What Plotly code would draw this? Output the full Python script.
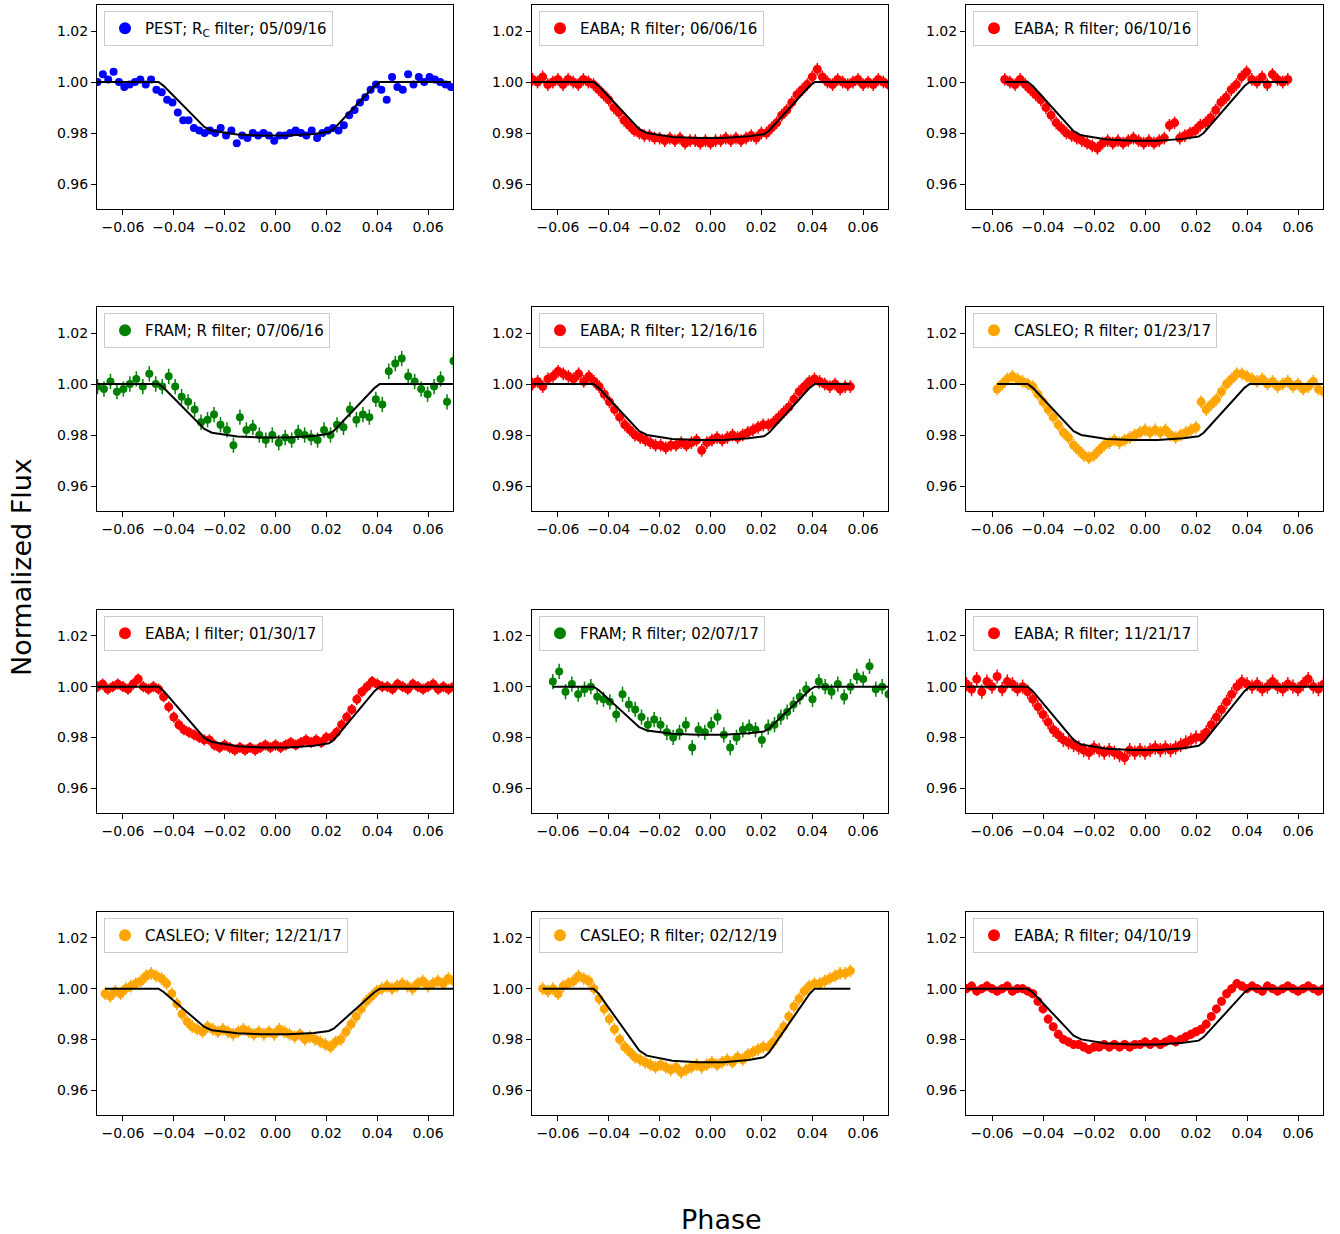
import numpy as np
import plotly.graph_objects as go

labels = ["PEST; R<sub>C</sub> filter; 05/09/16", "EABA; R filter; 06/06/16", "EABA; R filter; 06/10/16",
          "FRAM; R filter; 07/06/16", "EABA; R filter; 12/16/16", "CASLEO; R filter; 01/23/17",
          "EABA; I filter; 01/30/17", "FRAM; R filter; 02/07/17", "EABA; R filter; 11/21/17",
          "CASLEO; V filter; 12/21/17", "CASLEO; R filter; 02/12/19", "EABA; R filter; 04/10/19"]
colors = ["#0000ff", "#ff0000", "#ff0000", "#008000", "#ff0000", "#ffa500",
          "#ff0000", "#008000", "#ff0000", "#ffa500", "#ffa500", "#ff0000"]
ranges = [(-0.07, 0.069), (-0.07, 0.07), (-0.055, 0.056), (-0.07, 0.07), (-0.07, 0.055), (-0.058, 0.07),
          (-0.07, 0.07), (-0.062, 0.07), (-0.07, 0.07), (-0.067, 0.07), (-0.066, 0.055), (-0.07, 0.07)]
errs = [0.0, 0.0025, 0.0025, 0.003, 0.0025, 0.0025, 0.0022, 0.003, 0.0028, 0.0025, 0.0025, 0.0018]

f1 = [1.000,1.003,1.001,1.004,1.000,0.998,0.999,1.000,1.001,0.999,
      1.001,0.997,0.996,0.993,0.992,0.988,0.985,0.985,0.982,0.981,
      0.980,0.981,0.980,0.982,0.979,0.981,0.976,0.979,0.978,0.980,
      0.979,0.980,0.979,0.977,0.979,0.979,0.980,0.981,0.980,0.979,
      0.981,0.978,0.980,0.981,0.982,0.981,0.983,0.987,0.989,0.992,
      0.994,0.997,0.999,0.997,0.993,1.002,0.998,0.997,1.003,0.999,
      1.002,1.000,1.002,1.001,1.000,0.999,0.998]
f2 = [1.001,1.000,1.002,0.999,1.000,1.001,0.999,1.001,1.000,0.999,1.001,1.000,
      0.999,0.997,0.995,0.993,0.990,0.988,0.985,0.983,0.981,0.980,
      0.979,0.979,0.978,0.978,0.977,0.978,0.977,0.978,0.976,0.977,0.977,0.976,0.977,0.976,0.977,0.977,0.978,0.977,0.978,0.977,0.978,0.979,0.978,0.980,
      0.980,0.982,0.984,0.987,0.989,0.992,0.995,0.997,0.999,1.002,1.005,
      1.002,1.000,0.999,1.001,1.000,0.999,1.000,1.001,0.999,1.000,0.999,1.001,1.000,0.999]
f3 = [1.001,1.000,0.999,1.001,0.999,
      0.997,0.995,0.993,0.990,0.987,0.984,0.982,0.980,0.979,
      0.978,0.977,0.976,0.975,0.974,0.976,0.977,0.976,0.977,0.976,0.977,0.978,0.977,0.976,0.977,0.976,0.977,0.978,0.983,0.984,0.978,0.979,0.980,0.981,0.983,
      0.984,0.986,0.989,0.992,0.994,0.997,0.999,1.002,1.004,1.001,
      1.000,1.002,0.999,1.003,1.001,1.000,1.001]
f4 = [0.999,0.998,1.001,0.997,0.998,1.000,1.002,0.999,1.004,1.000,
      0.999,1.003,0.999,0.995,0.993,0.990,0.985,0.986,0.988,0.984,
      0.982,0.976,0.987,0.982,0.983,0.980,0.978,0.980,0.977,0.979,
      0.978,0.981,0.980,0.979,0.978,0.982,0.980,0.984,0.983,0.990,
      0.986,0.988,0.987,0.994,0.992,1.005,1.008,1.010,1.003,1.001,
      0.998,0.996,0.999,1.002,0.993,1.009]
f5 = [1.000,1.001,0.999,1.002,1.003,1.005,1.004,1.003,1.002,1.004,1.001,1.003,
      1.001,0.999,0.996,0.993,0.990,0.987,0.984,0.982,0.980,0.979,
      0.978,0.977,0.976,0.976,0.975,0.976,0.976,0.977,0.976,0.977,0.978,0.974,0.977,0.978,0.979,0.978,0.979,0.980,0.979,0.980,0.981,0.982,0.983,0.984,
      0.984,0.985,0.987,0.989,0.991,0.994,0.997,0.999,1.001,1.002,1.001,
      1.000,0.999,1.000,0.998,0.999,0.999]
f6 = [0.998,1.000,1.002,1.003,1.002,1.001,1.000,0.999,
      0.996,0.993,0.990,0.987,0.984,0.981,0.979,0.976,0.974,0.972,
      0.971,0.972,0.974,0.976,0.977,0.978,0.977,0.978,0.979,0.980,0.981,0.982,0.981,0.982,0.981,0.982,0.980,0.979,0.980,0.981,0.982,0.983,
      0.993,0.990,0.992,0.994,0.997,1.000,1.002,1.004,
      1.004,1.003,1.002,1.001,1.002,1.000,1.001,0.999,1.000,1.001,0.999,1.000,0.998,0.999,1.001,0.998,0.997]
f7 = [1.000,1.001,0.999,1.000,1.001,1.000,0.999,1.001,1.003,1.000,0.999,1.000,
      0.999,0.996,0.992,0.988,0.985,0.983,0.982,0.981,0.980,0.979,
      0.979,0.977,0.976,0.977,0.976,0.975,0.976,0.975,0.976,0.975,0.976,0.977,0.976,0.977,0.976,0.977,0.978,0.977,0.978,0.979,0.978,0.979,0.978,0.980,
      0.980,0.982,0.985,0.988,0.991,0.995,0.998,1.000,1.002,1.001,1.000,
      1.000,0.999,1.001,1.000,0.999,1.001,1.000,0.999,1.000,1.001,0.999,1.000,0.999,1.000]
f8 = [1.002,1.006,0.998,1.001,0.997,0.999,1.000,0.996,0.995,0.994,
      0.989,0.997,0.993,0.991,0.988,0.985,0.987,0.985,0.982,0.980,
      0.982,0.985,0.976,0.983,0.982,0.985,0.988,0.981,0.976,0.980,
      0.983,0.984,0.983,0.979,0.984,0.985,0.988,0.990,0.993,0.996,
      0.999,0.995,1.002,1.000,0.998,1.001,0.996,1.000,1.004,1.003,
      1.008,0.999,1.000,0.997]
f9 = [1.001,0.999,1.003,0.998,1.002,1.000,1.004,0.999,1.002,1.001,0.999,1.000,
      0.998,0.995,0.992,0.989,0.986,0.983,0.981,0.979,0.978,0.977,
      0.976,0.975,0.974,0.976,0.975,0.974,0.975,0.974,0.973,0.972,0.975,0.974,0.975,0.974,0.975,0.976,0.975,0.976,0.975,0.976,0.977,0.978,0.979,0.980,
      0.980,0.982,0.985,0.988,0.991,0.994,0.997,1.000,1.002,1.001,1.000,
      1.001,0.999,1.000,1.002,1.000,0.999,1.001,1.000,0.999,1.001,1.003,1.000,0.999,1.001]
f10 = [0.998,0.997,0.999,0.998,1.000,1.001,1.002,1.003,1.005,1.006,1.005,
       1.004,1.002,0.998,0.994,0.990,0.987,0.985,0.984,0.983,0.985,
       0.984,0.983,0.984,0.983,0.982,0.983,0.984,0.983,0.982,0.983,0.982,0.983,0.982,0.984,0.983,0.982,0.981,0.982,0.980,0.981,0.980,0.979,0.978,0.977,0.979,0.980,
       0.983,0.986,0.989,0.992,0.995,0.997,0.999,1.000,1.001,
       1.000,1.001,1.002,1.001,1.000,1.002,1.003,1.001,1.002,1.003,1.002,1.004,1.003]
f11 = [1.000,0.999,1.000,0.998,1.001,1.002,1.003,1.005,1.004,
       1.003,1.000,0.996,0.992,0.988,0.984,0.980,0.977,0.975,0.973,0.972,0.971,
       0.970,0.969,0.970,0.969,0.968,0.969,0.967,0.968,0.969,0.970,0.969,0.970,0.971,0.970,0.971,0.972,0.971,0.973,0.972,0.974,0.975,0.976,0.977,
       0.977,0.979,0.982,0.985,0.989,0.993,0.996,0.999,1.001,1.002,1.002,
       1.003,1.004,1.005,1.006,1.006,1.007]
f12 = [1.000,1.001,0.999,1.000,1.001,1.000,0.999,1.000,1.001,0.999,1.000,1.000,
       0.999,0.998,0.995,0.992,0.988,0.985,0.982,0.980,0.979,0.978,
       0.978,0.977,0.976,0.977,0.977,0.978,0.977,0.978,0.977,0.978,0.977,0.978,0.978,0.979,0.978,0.979,0.978,0.979,0.980,0.979,0.980,0.981,0.982,0.983,
       0.984,0.986,0.989,0.992,0.995,0.998,1.000,1.002,1.001,1.000,1.001,
       1.000,0.999,1.001,1.000,0.999,1.000,1.001,1.000,0.999,1.000,1.001,1.000,0.999,1.000]
fluxes = [f1, f2, f3, f4, f5, f6, f7, f8, f9, f10, f11, f12]

model_phase = [-0.07,-0.046,-0.044,-0.030,-0.028,-0.025,-0.015,-0.005,0.005,0.015,0.021,0.023,0.025,0.039,0.041,0.07]
m979 = [1,1,0.9985,0.9845,0.9824,0.9809,0.9794,0.979,0.979,0.9796,0.9805,0.9817,0.9838,0.9985,1,1]
m978 = [1,1,0.9985,0.9837,0.9815,0.9800,0.9784,0.978,0.978,0.9787,0.9795,0.9809,0.9831,0.9985,1,1]
m977 = [1,1,0.9984,0.9830,0.9807,0.9791,0.9775,0.977,0.977,0.9777,0.9786,0.9800,0.9823,0.9984,1,1]
m976 = [1,1,0.9983,0.9822,0.9798,0.9782,0.9765,0.976,0.976,0.9767,0.9777,0.9791,0.9815,0.9983,1,1]
m981 = [1,1,0.9987,0.9859,0.9840,0.9827,0.9814,0.981,0.981,0.9816,0.9823,0.9835,0.9854,0.9987,1,1]
m975 = [1,1,0.9982,0.9815,0.9790,0.9772,0.9755,0.975,0.975,0.9757,0.9767,0.9782,0.9807,0.9982,1,1]
m982 = [1,1,0.9987,0.9867,0.9849,0.9836,0.9824,0.982,0.982,0.9825,0.9833,0.9843,0.9861,0.9987,1,1]
m971 = [1,1,0.9980,0.9785,0.9756,0.9736,0.9716,0.971,0.971,0.9719,0.9730,0.9748,0.9777,0.9980,1,1]
models = [m979, m978, m977, m979, m978, m978, m976, m981, m975, m982, m971, m978]

xticks = [-0.06, -0.04, -0.02, 0.0, 0.02, 0.04, 0.06]
xticklabels = ["\u22120.06", "\u22120.04", "\u22120.02", "0.00", "0.02", "0.04", "0.06"]
yticks = [0.96, 0.98, 1.00, 1.02]
yticklabels = ["0.96", "0.98", "1.00", "1.02"]

W, H = 1340, 1234
colx = [(97, 453), (532, 888), (966, 1323)]
rowy = [(5, 209), (307, 511), (610, 813), (912, 1115)]

fig = go.Figure()
layout = dict(width=W, height=H, margin=dict(l=0, r=0, t=0, b=0), plot_bgcolor="white",
              paper_bgcolor="white", font=dict(family="DejaVu Sans", color="black", size=14))
for i in range(12):
    r, c = divmod(i, 3)
    n = i + 1
    xa = "x" if n == 1 else f"x{n}"
    ya = "y" if n == 1 else f"y{n}"
    lg = "legend" if n == 1 else f"legend{n}"
    x0, x1 = colx[c]; y0, y1 = rowy[r]
    dx = [x0 / W, x1 / W]; dy = [1 - y1 / H, 1 - y0 / H]
    fl = fluxes[i]
    ph = np.linspace(ranges[i][0], ranges[i][1], len(fl))
    fig.add_trace(go.Scatter(x=ph, y=fl, mode="markers", name=labels[i], xaxis=xa, yaxis=ya, legend=lg,
                             marker=dict(color=colors[i], size=8 if errs[i] in (0.0, 0.003) else 9),
                             error_y=dict(type="constant", value=errs[i], color=colors[i], thickness=1.5, width=0,
                                          visible=errs[i] > 0)))
    mx = list(model_phase); mx[0] = ranges[i][0]; mx[-1] = ranges[i][1]
    fig.add_trace(go.Scatter(x=mx, y=models[i], mode="lines", line=dict(color="black", width=2),
                             xaxis=xa, yaxis=ya, showlegend=False, hoverinfo="skip"))
    axcommon = dict(showline=True, linecolor="black", linewidth=1, mirror=True, ticks="outside",
                    ticklen=5, tickcolor="black", showgrid=False, zeroline=False, tickfont=dict(size=14))
    layout["xaxis" if n == 1 else f"xaxis{n}"] = dict(domain=dx, range=[-0.0702, 0.0698], anchor=ya,
                                                       tickvals=xticks, ticktext=xticklabels, **axcommon)
    layout["yaxis" if n == 1 else f"yaxis{n}"] = dict(domain=dy, range=[0.9502, 1.0302], anchor=xa,
                                                       tickvals=yticks, ticktext=yticklabels, **axcommon)
    layout[lg] = dict(x=dx[0] + 7 / W, y=dy[1] - 6 / H, xanchor="left", yanchor="top", bgcolor="white",
                      bordercolor="#cccccc", borderwidth=1, font=dict(size=15), itemsizing="constant")

layout["annotations"] = [
    dict(text="Normalized Flux", x=22 / W, y=0.545, xref="paper", yref="paper", textangle=-90,
         showarrow=False, font=dict(size=27), xshift=-18, yshift=-6),
    dict(text="Phase", x=722 / W, y=1 - 1219 / H, xref="paper", yref="paper", showarrow=False,
         font=dict(size=27), yshift=-18),
]
fig.update_layout(**layout)
fig.write_html("out.html", post_script="document.body.style.margin='0';",
               config={"displayModeBar": False})
